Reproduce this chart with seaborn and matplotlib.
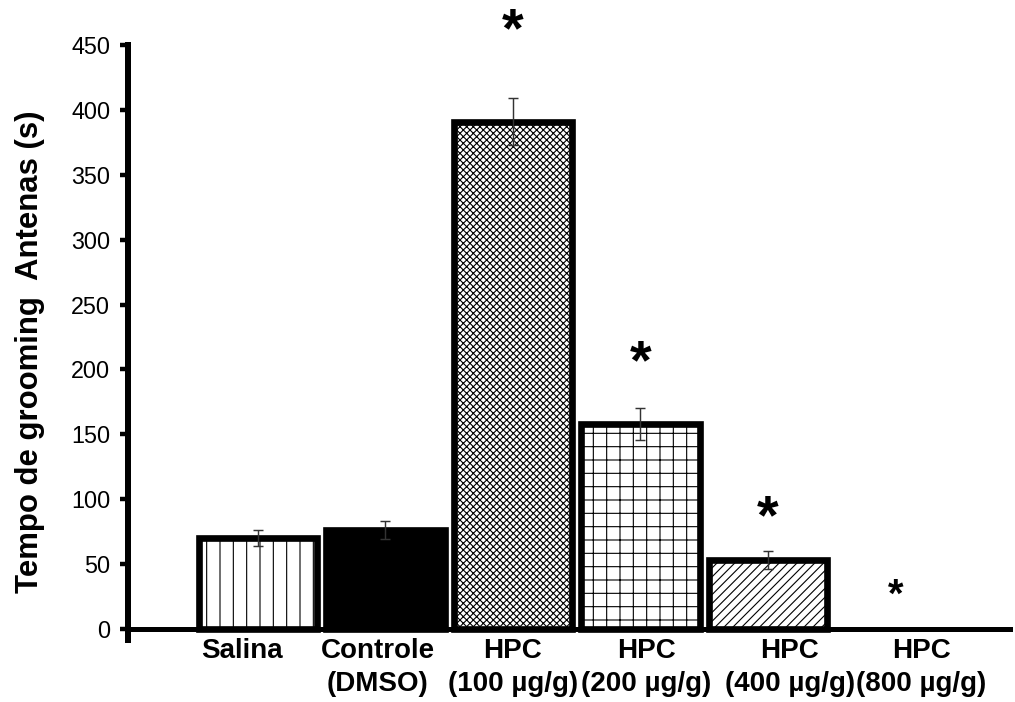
import matplotlib
matplotlib.use('Agg')
import matplotlib.pyplot as plt
import seaborn as sns
import pandas as pd
from matplotlib.ticker import MultipleLocator
from matplotlib.transforms import ScaledTranslation

# ---- data ----
groups = ['Salina', 'Controle\n(DMSO)', 'HPC\n(100 µg/g)', 'HPC\n(200 µg/g)',
          'HPC\n(400 µg/g)', 'HPC\n(800 µg/g)']
means = [70, 76, 391, 158, 53, 0]
sems = [6, 7, 18, 12, 7, 0]
significant = [False, False, True, True, True, True]
ylabel = 'Tempo de grooming  Antenas (s)'

# ---- style ----
hatches = ['|', '', 'xxxx', '+', '///', '']
faces = ['white', 'black', 'white', 'white', 'white', 'white']
star_y = [0, 0, 473, 217, 98, 34]          # annotation heights
star_fs = [0, 0, 50, 50, 50, 36]
label_dx = [-16, -8, 0, 6, 22, 26]          # px shifts of tick labels

DPI = 80
sns.set_theme(style='ticks')
plt.rcParams['font.family'] = ['Liberation Sans', 'DejaVu Sans']
plt.rcParams['hatch.linewidth'] = 1.0
for k in ['text.color', 'axes.labelcolor', 'xtick.color', 'ytick.color', 'axes.edgecolor']:
    plt.rcParams[k] = 'black'

fig = plt.figure(figsize=(1015 / DPI, 702 / DPI), dpi=DPI)
ax = fig.add_axes([128 / 1015, 1 - 640 / 702, 882 / 1015, 595 / 702])

df = pd.DataFrame({'grupo': groups, 'tempo': means})
sns.barplot(data=df, x='grupo', y='tempo', order=groups, color='white',
            edgecolor='black', linewidth=6.0, width=0.93, errorbar=None,
            saturation=1, ax=ax)
for p, h, fc, m in zip(ax.patches, hatches, faces, means):
    p.set_facecolor(fc)
    p.set_hatch(h)
    if m == 0:
        p.set_linewidth(0)

xs = [i for i, s in enumerate(sems) if s > 0]
ax.errorbar(xs, [means[i] for i in xs], yerr=[sems[i] for i in xs], fmt='none',
            ecolor='#333333', elinewidth=1.3, capsize=4.5, capthick=1.3, zorder=5)

for i, sig in enumerate(significant):
    if sig:
        fs = star_fs[i]
        ax.annotate('*', xy=(i, star_y[i]), xytext=(0, -0.56 * fs),
                    textcoords='offset points', ha='center', va='baseline',
                    fontsize=fs, fontweight='bold', color='black',
                    annotation_clip=False)

ax.set_xlim(-1.02, 5.9)
ax.set_ylim(-8.5, 450)
sns.despine(ax=ax)
ax.spines['bottom'].set_position(('data', 0))
ax.spines['left'].set_linewidth(5.4)
ax.spines['bottom'].set_linewidth(4.5)

ax.yaxis.set_major_locator(MultipleLocator(50))
ax.yaxis.set_minor_locator(MultipleLocator(25))
ax.tick_params(axis='y', which='major', length=7, width=4, direction='out',
               labelsize=21, pad=9)
ax.tick_params(axis='y', which='minor', length=3, width=4, direction='out')

ax.set_xticks(range(len(groups)))
ax.set_xticklabels(groups, fontweight='bold', fontsize=25, linespacing=1.35)
ax.tick_params(axis='x', length=0, pad=8)
for lbl, dx in zip(ax.get_xticklabels(), label_dx):
    lbl.set_transform(lbl.get_transform() + ScaledTranslation(dx / DPI, 0, fig.dpi_scale_trans))

ax.set_xlabel('')
ax.set_ylabel(ylabel, fontsize=28, fontweight='bold')
ax.yaxis.set_label_coords(-0.094, 0.484)

fig.savefig('out.png', dpi=DPI)
